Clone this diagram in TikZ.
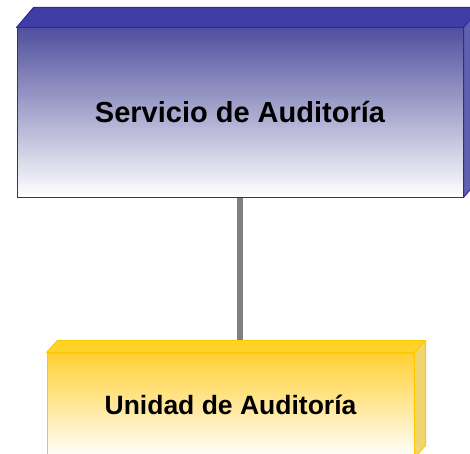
\documentclass[tikz,border=0pt]{standalone}
\usepackage{fontspec}
\setmainfont{Liberation Sans}
\usepackage{xcolor}
\usepackage{tikz}

\definecolor{servedge}{RGB}{46,46,146}
\definecolor{servshade}{RGB}{80,80,158}
\definecolor{servtop}{RGB}{62,62,166}
\definecolor{servside}{RGB}{96,96,176}
\definecolor{unidedge}{RGB}{255,200,0}
\definecolor{unidshade}{RGB}{255,208,50}
\definecolor{unidtop}{RGB}{255,212,40}
\definecolor{unidside}{RGB}{240,214,110}
\definecolor{linkgray}{RGB}{128,128,128}

\begin{document}
\begin{tikzpicture}[x=1pt,y=1pt,
  box/.style={draw,line width=1pt,inner sep=0pt},
  face/.style={line width=1pt,line join=round}]
\useasboundingbox (0,0) rectangle (470,453);
\clip (0,0) rectangle (470,453);

% front faces
\node[box,draw=servedge,top color=servshade,middle color=servshade!45!white,bottom color=white,
  minimum width=446pt,minimum height=169pt,
  font=\bfseries\fontsize{29}{34}\selectfont] (serv) at (240,340.5) {Servicio de Auditoría};
\node[box,draw=unidedge,top color=unidshade,middle color=unidshade!40!white,bottom color=white,
  minimum width=367pt,minimum height=104pt,
  font=\bfseries\fontsize{26.5}{32}\selectfont] (unid) at (230.5,48) {Unidad de Auditoría};

% link
\draw[line width=6pt,draw=linkgray] (serv.south) -- (serv.south |- unid.north);

% top and side faces
\filldraw[face,draw=servedge,fill=servtop] (serv.north west) -- ([shift={(17,20)}]serv.north west)
  -- ([shift={(17,20)}]serv.north east) -- (serv.north east) -- cycle;
\filldraw[face,draw=servedge,fill=servside] (serv.north east) -- ([shift={(17,20)}]serv.north east)
  -- ([shift={(17,20)}]serv.south east) -- (serv.south east) -- cycle;

\filldraw[face,draw=unidedge,fill=unidtop] (unid.north west) -- ([shift={(11,12)}]unid.north west)
  -- ([shift={(11,12)}]unid.north east) -- (unid.north east) -- cycle;
\filldraw[face,draw=unidedge,fill=unidside] (unid.north east) -- ([shift={(11,12)}]unid.north east)
  -- ([shift={(11,12)}]unid.south east) -- (unid.south east) -- cycle;
\end{tikzpicture}
\end{document}
